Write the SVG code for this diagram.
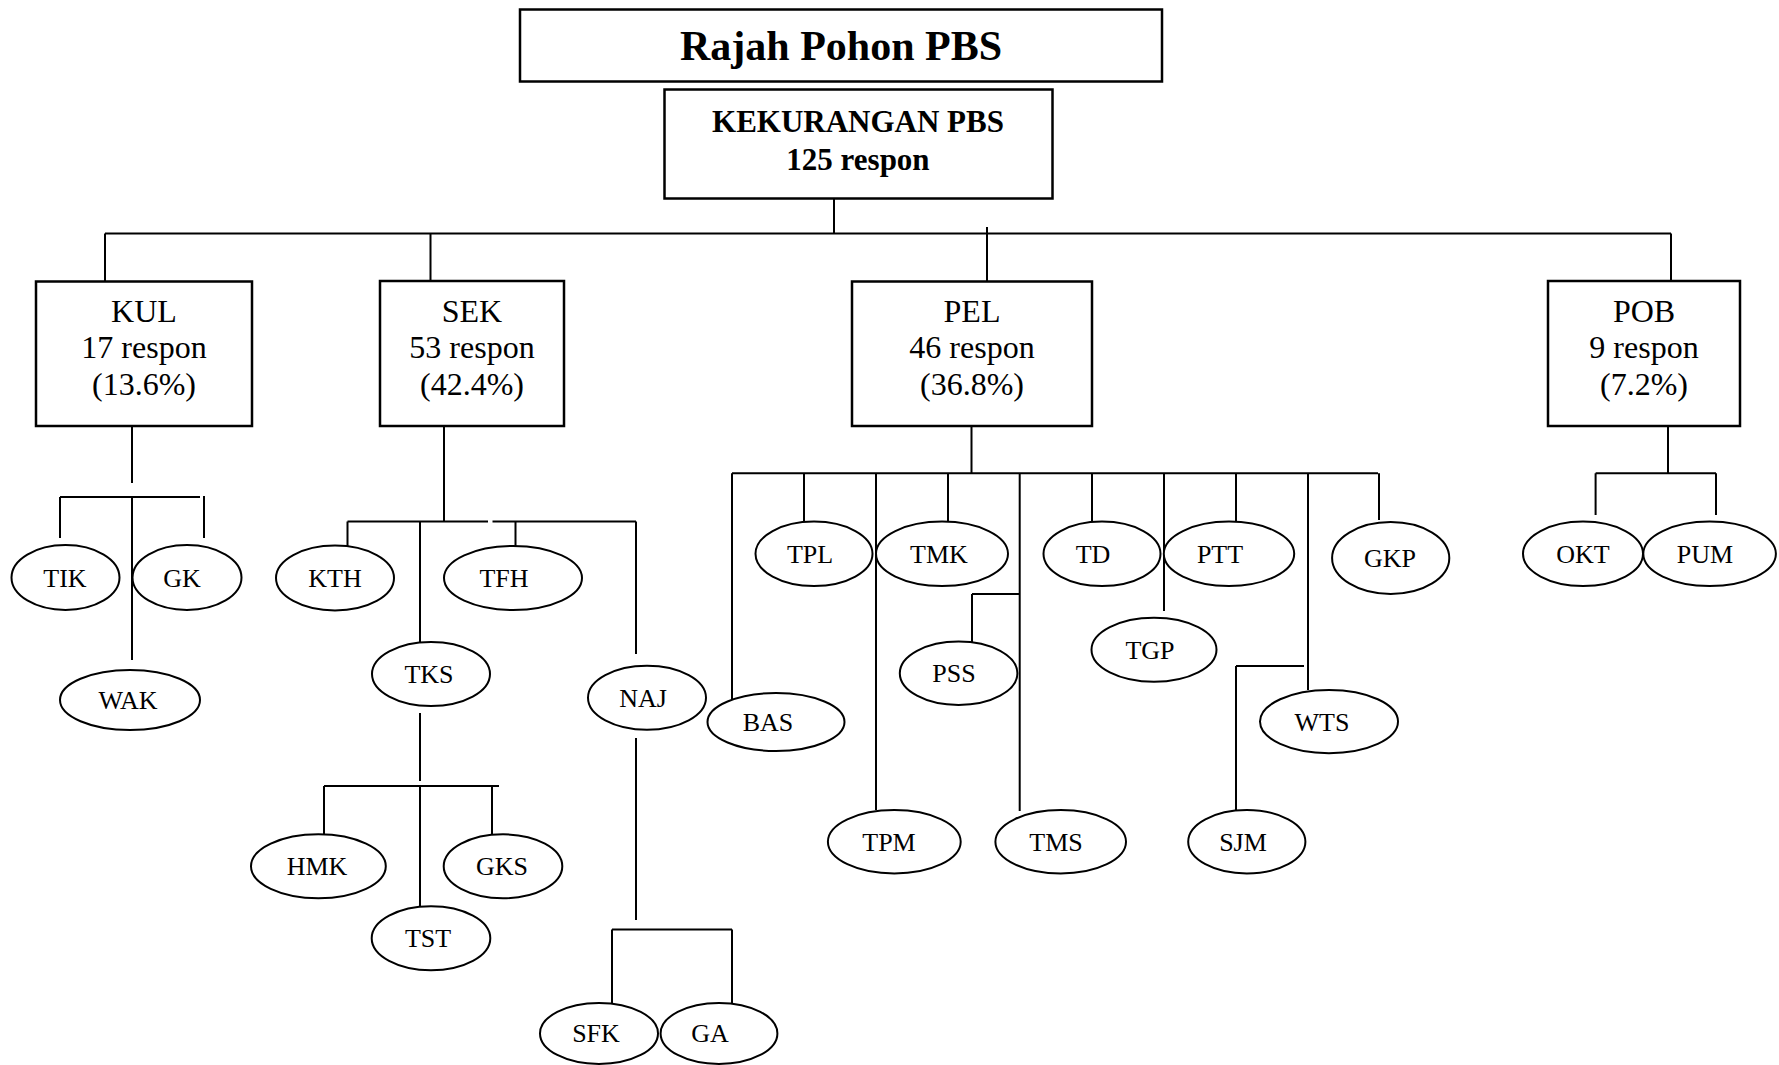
<svg xmlns="http://www.w3.org/2000/svg" width="1779" height="1065" viewBox="0 0 1779 1065">
<style>
.bx{fill:#fff;stroke:#000;stroke-width:2.5}
.el{fill:#fff;stroke:#000;stroke-width:2}
.cn path{fill:none;stroke:#000;stroke-width:2}
text{font-family:"Liberation Serif","Times New Roman",serif;fill:#000;text-anchor:middle}
.t{font-size:42px;font-weight:bold}
.r{font-size:31px;font-weight:bold}
.b{font-size:32px}
.e{font-size:26px}
</style>
<rect width="1779" height="1065" fill="#fff"/>
<g id="connectors" class="cn">
<path d="M834 199V233.5M105 233.5H1671M105 233.5V281M430.5 233.5V281M987 227V281M1671 233.5V281"/>
<path d="M132 426V483M60 497H200M60 497V538M204 496V538M132 497V660"/>
<path d="M444 426V521.6M347.5 521.6H488M492.5 521.6H636M347.5 521.6V552M420 521.6V642M515.5 521.6V552M636 521.6V654"/>
<path d="M420 713V781M324 786H499M324 786V835M420 786V907M492 786V835"/>
<path d="M636 738V920M612 929.5H732M612 929.5V1008M732 929.5V1008"/>
<path d="M971.5 426V473.3M732 473.3H1378M732 473.3V700M804 473.3V522M876 473.3V810M948 473.3V522M1019.7 473.3V811M972 594H1019.7M972 594V642M1092 473.3V522M1164 473.3V611M1236 473.3V522M1308 473.3V690M1236 666H1304M1236 666V813M1379 473.3V520"/>
<path d="M1668 426V473.3M1595.6 473.3H1716M1595.6 473.3V515M1716 473.3V515"/>
</g>
<g id="title"><rect class="bx" x="520" y="9.5" width="642" height="72"/><text class="t" x="841" y="60">Rajah Pohon PBS</text></g>
<g id="root"><rect class="bx" x="664.5" y="89.5" width="388" height="109"/><text class="r" x="858" y="132">KEKURANGAN PBS</text><text class="r" x="858" y="170">125 respon</text></g>
<g id="KUL"><rect class="bx" x="36" y="281.5" width="216" height="144.5"/><text class="b" x="144" y="322">KUL</text><text class="b" x="144" y="358">17 respon</text><text class="b" x="144" y="395">(13.6%)</text></g>
<g id="SEK"><rect class="bx" x="380" y="281" width="184" height="145"/><text class="b" x="472" y="322">SEK</text><text class="b" x="472" y="358">53 respon</text><text class="b" x="472" y="395">(42.4%)</text></g>
<g id="PEL"><rect class="bx" x="852" y="281.5" width="240" height="144.5"/><text class="b" x="972" y="322">PEL</text><text class="b" x="972" y="358">46 respon</text><text class="b" x="972" y="395">(36.8%)</text></g>
<g id="POB"><rect class="bx" x="1548" y="281" width="192" height="145"/><text class="b" x="1644" y="322">POB</text><text class="b" x="1644" y="358">9 respon</text><text class="b" x="1644" y="395">(7.2%)</text></g>
<g id="TIK"><ellipse class="el" cx="65.5" cy="577.5" rx="54" ry="32.5"/><text class="e" x="65" y="586.5">TIK</text></g>
<g id="GK"><ellipse class="el" cx="187" cy="577.5" rx="54.5" ry="32.5"/><text class="e" x="182" y="586.5">GK</text></g>
<g id="WAK"><ellipse class="el" cx="130" cy="700" rx="70" ry="30"/><text class="e" x="128" y="709">WAK</text></g>
<g id="KTH"><ellipse class="el" cx="335" cy="578" rx="59" ry="32.4"/><text class="e" x="335" y="587">KTH</text></g>
<g id="TFH"><ellipse class="el" cx="513" cy="578" rx="69" ry="32"/><text class="e" x="504" y="587">TFH</text></g>
<g id="TKS"><ellipse class="el" cx="431" cy="674" rx="59" ry="32"/><text class="e" x="429" y="683">TKS</text></g>
<g id="NAJ"><ellipse class="el" cx="647" cy="697.7" rx="59" ry="32"/><text class="e" x="643" y="706.7">NAJ</text></g>
<g id="HMK"><ellipse class="el" cx="318.4" cy="866.3" rx="67.4" ry="32"/><text class="e" x="317" y="875.3">HMK</text></g>
<g id="GKS"><ellipse class="el" cx="503" cy="866.3" rx="59.3" ry="32"/><text class="e" x="502" y="875.3">GKS</text></g>
<g id="TST"><ellipse class="el" cx="431" cy="938.2" rx="59.3" ry="32"/><text class="e" x="428" y="947.2">TST</text></g>
<g id="SFK"><ellipse class="el" cx="599" cy="1033.4" rx="59" ry="30.5"/><text class="e" x="596" y="1042.4">SFK</text></g>
<g id="GA"><ellipse class="el" cx="719" cy="1033.4" rx="58.4" ry="30.5"/><text class="e" x="710" y="1042.4">GA</text></g>
<g id="TPL"><ellipse class="el" cx="814" cy="553.8" rx="58.5" ry="32.2"/><text class="e" x="810" y="562.8">TPL</text></g>
<g id="TMK"><ellipse class="el" cx="942" cy="553.8" rx="66" ry="32.2"/><text class="e" x="939" y="562.8">TMK</text></g>
<g id="TD"><ellipse class="el" cx="1102" cy="553.8" rx="58.5" ry="32.2"/><text class="e" x="1093" y="562.8">TD</text></g>
<g id="PTT"><ellipse class="el" cx="1229" cy="553.8" rx="65.2" ry="32.2"/><text class="e" x="1220" y="562.8">PTT</text></g>
<g id="GKP"><ellipse class="el" cx="1390.7" cy="558" rx="58.6" ry="36"/><text class="e" x="1390" y="567">GKP</text></g>
<g id="PSS"><ellipse class="el" cx="958.6" cy="673.3" rx="58.8" ry="31.7"/><text class="e" x="954" y="682.3">PSS</text></g>
<g id="TGP"><ellipse class="el" cx="1154" cy="649.7" rx="62.5" ry="32"/><text class="e" x="1150" y="658.7">TGP</text></g>
<g id="BAS"><ellipse class="el" cx="776" cy="722" rx="68.5" ry="29"/><text class="e" x="768" y="731">BAS</text></g>
<g id="WTS"><ellipse class="el" cx="1329" cy="721.6" rx="69" ry="31.6"/><text class="e" x="1322" y="730.6">WTS</text></g>
<g id="TPM"><ellipse class="el" cx="894.3" cy="841.7" rx="66.4" ry="31.7"/><text class="e" x="889" y="850.7">TPM</text></g>
<g id="TMS"><ellipse class="el" cx="1060.7" cy="841.7" rx="65.3" ry="31.7"/><text class="e" x="1056" y="850.7">TMS</text></g>
<g id="SJM"><ellipse class="el" cx="1246.8" cy="841.7" rx="58.6" ry="31.7"/><text class="e" x="1243" y="850.7">SJM</text></g>
<g id="OKT"><ellipse class="el" cx="1583" cy="553.8" rx="60" ry="32.2"/><text class="e" x="1583" y="562.8">OKT</text></g>
<g id="PUM"><ellipse class="el" cx="1709.6" cy="553.8" rx="66.3" ry="32.2"/><text class="e" x="1705" y="562.8">PUM</text></g>
</svg>
